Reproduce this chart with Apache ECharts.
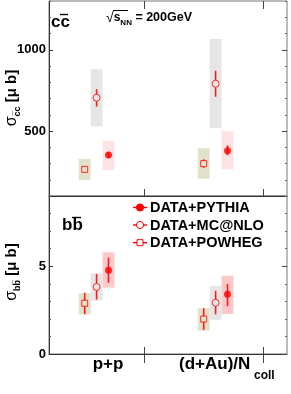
<!DOCTYPE html>
<html><head><meta charset="utf-8">
<script src="https://cdn.jsdelivr.net/npm/echarts@6/dist/echarts.min.js"></script>
<style>html,body{margin:0;padding:0;background:#fff}#c{width:291px;height:394px}</style>
</head><body><div id="c"></div>
<script>
// ---------------- data ----------------
const categories = ['p+p', '(d+Au)/N_coll'];
const models = ['DATA+PYTHIA', 'DATA+MC@NLO', 'DATA+POWHEG'];
// c-cbar cross section [μb]
const ccPythia     = [352, 379];
const ccPythiaErr  = [[334, 372], [350, 412]];
const ccPythiaSys  = [[260, 440], [264, 500]];
const ccMcnlo      = [705, 791];
const ccMcnloErr   = [[650, 757], [711, 871]];
const ccMcnloSys   = [[529, 880], [518, 1066]];
const ccPowheg     = [264, 299];
const ccPowhegErr  = [[252, 276], [274, 326]];
const ccPowhegSys  = [[198, 328], [206, 394]];
// b-bbar cross section [μb]
const bbPythia     = [4.77, 3.40];
const bbPythiaErr  = [[4.06, 5.49], [2.72, 3.99]];
const bbPythiaSys  = [[3.78, 5.79], [2.28, 4.46]];
const bbMcnlo      = [3.82, 2.92];
const bbMcnloErr   = [[3.10, 4.56], [2.26, 3.60]];
const bbMcnloSys   = [[3.04, 4.59], [1.95, 3.87]];
const bbPowheg     = [2.89, 1.99];
const bbPowhegErr  = [[2.26, 3.49], [1.37, 2.61]];
const bbPowhegSys  = [[2.26, 3.46], [1.33, 2.61]];
// axis ticks
const ccTickMajor = [500, 1000];
const bbTickMajor = [0, 5];
const xTicks = [1.4, 2.4];

// ---------------- style ----------------
const FONT = "'Liberation Sans', Arial, sans-serif";
const RED = '#ff0000';
const BOX_HALF = 0.05;
const OFFS = { PYTHIA: 0.1, MCNLO: 0, POWHEG: -0.1 };
const COL = { POWHEG: '#e2e1c9', MCNLO: '#e6e6e6', PYTHIA_TOP: '#fde3e3', PYTHIA_BOT: '#fcc8c8' };

const chart = echarts.init(document.getElementById('c'), null, { renderer: 'canvas' });

function xAxes(gi) {
  return [
    { type: 'value', gridIndex: gi, position: 'bottom', min: 0.6, max: 2.6,
      axisLine: { show: true, lineStyle: { color: '#333', width: 1 } },
      axisTick: { show: true, customValues: xTicks, inside: true, length: 7, lineStyle: { color: '#444' } },
      axisLabel: { show: false }, splitLine: { show: false } },
    { type: 'value', gridIndex: gi, position: 'top', min: 0.6, max: 2.6,
      axisLine: { show: false },
      axisTick: { show: true, customValues: xTicks, inside: true, length: gi === 0 ? 8 : 9, lineStyle: { color: '#444' } },
      axisLabel: { show: false }, splitLine: { show: false } }
  ];
}
function yAxes(gi, min, max, minor, majors) {
  const base = { type: 'value', gridIndex: gi, min: min, max: max, splitLine: { show: false } };
  return [
    Object.assign({}, base, { position: 'left', interval: minor,
      axisLine: { show: true, lineStyle: { color: '#333', width: 1 } },
      axisTick: { show: true, inside: true, length: 2, lineStyle: { color: '#555' } },
      axisLabel: { show: true, margin: 3, fontSize: 13, fontWeight: 'bold', color: '#000', fontFamily: FONT,
        formatter: v => majors.indexOf(v) >= 0 ? String(v) : '' } }),
    Object.assign({}, base, { position: 'left',
      axisLine: { show: false },
      axisTick: { show: true, customValues: majors, inside: true, length: 4, lineStyle: { color: '#333' } },
      axisLabel: { show: false } }),
    Object.assign({}, base, { position: 'right', interval: minor,
      axisLine: { show: false },
      axisTick: { show: true, inside: true, length: 2, lineStyle: { color: '#666' } },
      axisLabel: { show: false } }),
    Object.assign({}, base, { position: 'right',
      axisLine: { show: false },
      axisTick: { show: true, customValues: majors, inside: true, length: 5, lineStyle: { color: '#444' } },
      axisLabel: { show: false } })
  ];
}

const series = [];
function addSet(panel, vals, err, sys, off, boxColor, kind) {
  const xi = panel * 2, yi = panel * 4;
  const xs = vals.map((v, i) => 1 + i + off);
  series.push({
    type: 'custom', xAxisIndex: xi, yAxisIndex: yi, z: 1, silent: true,
    data: sys.map((s, i) => [xs[i], s[0], s[1]]),
    encode: { x: 0, y: [1, 2] },
    renderItem: function (params, api) {
      const x = api.value(0), lo = api.value(1), hi = api.value(2);
      const p1 = api.coord([x - BOX_HALF, hi]);
      const p2 = api.coord([x + BOX_HALF, lo]);
      return { type: 'rect', shape: { x: p1[0], y: p1[1], width: p2[0] - p1[0], height: p2[1] - p1[1] },
        style: { fill: boxColor } };
    }
  });
  const gap = kind === 'filled' ? 0 : (kind === 'circle' ? 3.6 : 3);
  series.push({
    type: 'custom', xAxisIndex: xi, yAxisIndex: yi, z: 2, silent: true,
    data: err.map((e, i) => [xs[i], vals[i], e[0], e[1]]),
    encode: { x: 0, y: [1, 2, 3] },
    renderItem: function (params, api) {
      const x = api.value(0), y = api.value(1), lo = api.value(2), hi = api.value(3);
      const c = api.coord([x, y]), t = api.coord([x, hi]), b = api.coord([x, lo]);
      const ch = [];
      const ls = { stroke: '#ff1a1a', lineWidth: 1.6 };
      if (c[1] - gap > t[1]) ch.push({ type: 'line', shape: { x1: c[0], y1: t[1], x2: c[0], y2: c[1] - gap }, style: ls });
      if (b[1] > c[1] + gap) ch.push({ type: 'line', shape: { x1: c[0], y1: c[1] + gap, x2: c[0], y2: b[1] }, style: ls });
      return { type: 'group', children: ch };
    }
  });
  series.push({
    type: 'scatter', xAxisIndex: xi, yAxisIndex: yi, z: 3, silent: true,
    data: vals.map((v, i) => [xs[i], v]),
    symbol: kind === 'square' ? 'rect' : 'circle',
    symbolSize: kind === 'square' ? 6 : 7,
    itemStyle: kind === 'filled' ? { color: RED } : { color: 'rgba(255,255,255,0)', borderColor: RED, borderWidth: 1 }
  });
}
addSet(0, ccPowheg, ccPowhegErr, ccPowhegSys, OFFS.POWHEG, COL.POWHEG, 'square');
addSet(0, ccMcnlo, ccMcnloErr, ccMcnloSys, OFFS.MCNLO, COL.MCNLO, 'circle');
addSet(0, ccPythia, ccPythiaErr, ccPythiaSys, OFFS.PYTHIA, COL.PYTHIA_TOP, 'filled');
addSet(1, bbPowheg, bbPowhegErr, bbPowhegSys, OFFS.POWHEG, COL.POWHEG, 'square');
addSet(1, bbMcnlo, bbMcnloErr, bbMcnloSys, OFFS.MCNLO, COL.MCNLO, 'circle');
addSet(1, bbPythia, bbPythiaErr, bbPythiaSys, OFFS.PYTHIA, COL.PYTHIA_BOT, 'filled');

// ---------------- annotations ----------------
const graphics = [];
function txt(x, y, text, font, extra) {
  graphics.push(Object.assign({ type: 'text', x: x, y: y, z: 10, silent: true,
    style: Object.assign({ text: text, font: font, fill: '#000', align: 'left', verticalAlign: 'middle' }, (extra && extra.style) || {}) },
    extra && extra.rotation !== undefined ? { rotation: extra.rotation } : {}));
}
function line(x1, y1, x2, y2, w, col) {
  graphics.push({ type: 'line', z: 10, silent: true, shape: { x1, y1, x2, y2 }, style: { stroke: col || '#000', lineWidth: w || 1.2 } });
}
// panel labels
txt(51, 22, 'cc', 'bold 17px ' + FONT);
line(60, 14.5, 68, 14.5, 1.4);
txt(62, 225, 'bb', 'bold 17px ' + FONT);
line(72, 217.5, 81, 217.5, 1.4);
// sqrt(s_NN)
txt(106, 18, '{r|√}{s|s}{n|NN}{t| = 200GeV}', '12px ' + FONT, { style: { rich: {
  r: { fontSize: 14, fontFamily: FONT, lineHeight: 18, verticalAlign: 'middle' },
  s: { fontSize: 12, fontWeight: 'bold', fontFamily: FONT, lineHeight: 18, verticalAlign: 'middle' },
  n: { fontSize: 8, fontWeight: 'bold', fontFamily: FONT, lineHeight: 18, verticalAlign: 'bottom' },
  t: { fontSize: 12.5, fontWeight: 'bold', fontFamily: FONT, lineHeight: 18, verticalAlign: 'middle' } } } });
line(113, 10.5, 128, 10.5, 1);
// y titles
const yTitleRich = {
  g: { fontSize: 16, fontFamily: FONT, lineHeight: 20, verticalAlign: 'middle' },
  sb: { fontSize: 9, fontWeight: 'bold', fontFamily: FONT, lineHeight: 20, verticalAlign: 'bottom' },
  m: { fontSize: 15, fontWeight: 'bold', fontFamily: FONT, lineHeight: 20, verticalAlign: 'middle' }
};
txt(12, 98, '{g|σ}{sb|c\u0305c}{m| [μ b]}', '15px ' + FONT, { rotation: Math.PI / 2, style: { align: 'center', rich: yTitleRich } });
txt(12, 272, '{g|σ}{sb|bb\u0305}{m| [μ b]}', '15px ' + FONT, { rotation: Math.PI / 2, style: { align: 'center', rich: yTitleRich } });
// x category labels
txt(108, 364, categories[0], 'bold 17px ' + FONT, { style: { align: 'center' } });
txt(179, 364, '(d+Au)/N', 'bold 17px ' + FONT);
txt(254, 376, 'coll', 'bold 12px ' + FONT);
// legend
const legY = [207.5, 225, 242.7];
const legKinds = ['filled', 'circle', 'square'];
models.forEach((m, i) => {
  const y = legY[i];
  line(133, y, 147, y, 1.4, RED);
  if (legKinds[i] === 'square') {
    graphics.push({ type: 'rect', z: 11, silent: true, shape: { x: 137, y: y - 3, width: 6, height: 6 }, style: { fill: '#fff', stroke: RED, lineWidth: 1 } });
  } else {
    graphics.push({ type: 'circle', z: 11, silent: true, shape: { cx: 140, cy: y, r: 3.6 },
      style: { fill: legKinds[i] === 'filled' ? RED : '#fff', stroke: RED, lineWidth: 1 } });
  }
  txt(150, y + 0.5, m, 'bold 14.5px ' + FONT);
});

chart.setOption({
  animation: false,
  backgroundColor: '#fff',
  grid: [
    { left: 49, right: 4, top: 1, height: 195, show: true, borderColor: '#777', borderWidth: 1, backgroundColor: 'transparent' },
    { left: 49, right: 4, top: 196, height: 158, show: true, borderColor: '#777', borderWidth: 1, backgroundColor: 'transparent' }
  ],
  xAxis: xAxes(0).concat(xAxes(1)),
  yAxis: yAxes(0, 100, 1300, 100, ccTickMajor).concat(yAxes(1, 0, 9, 1, bbTickMajor)),
  series: series,
  graphic: graphics
});
</script></body></html>
